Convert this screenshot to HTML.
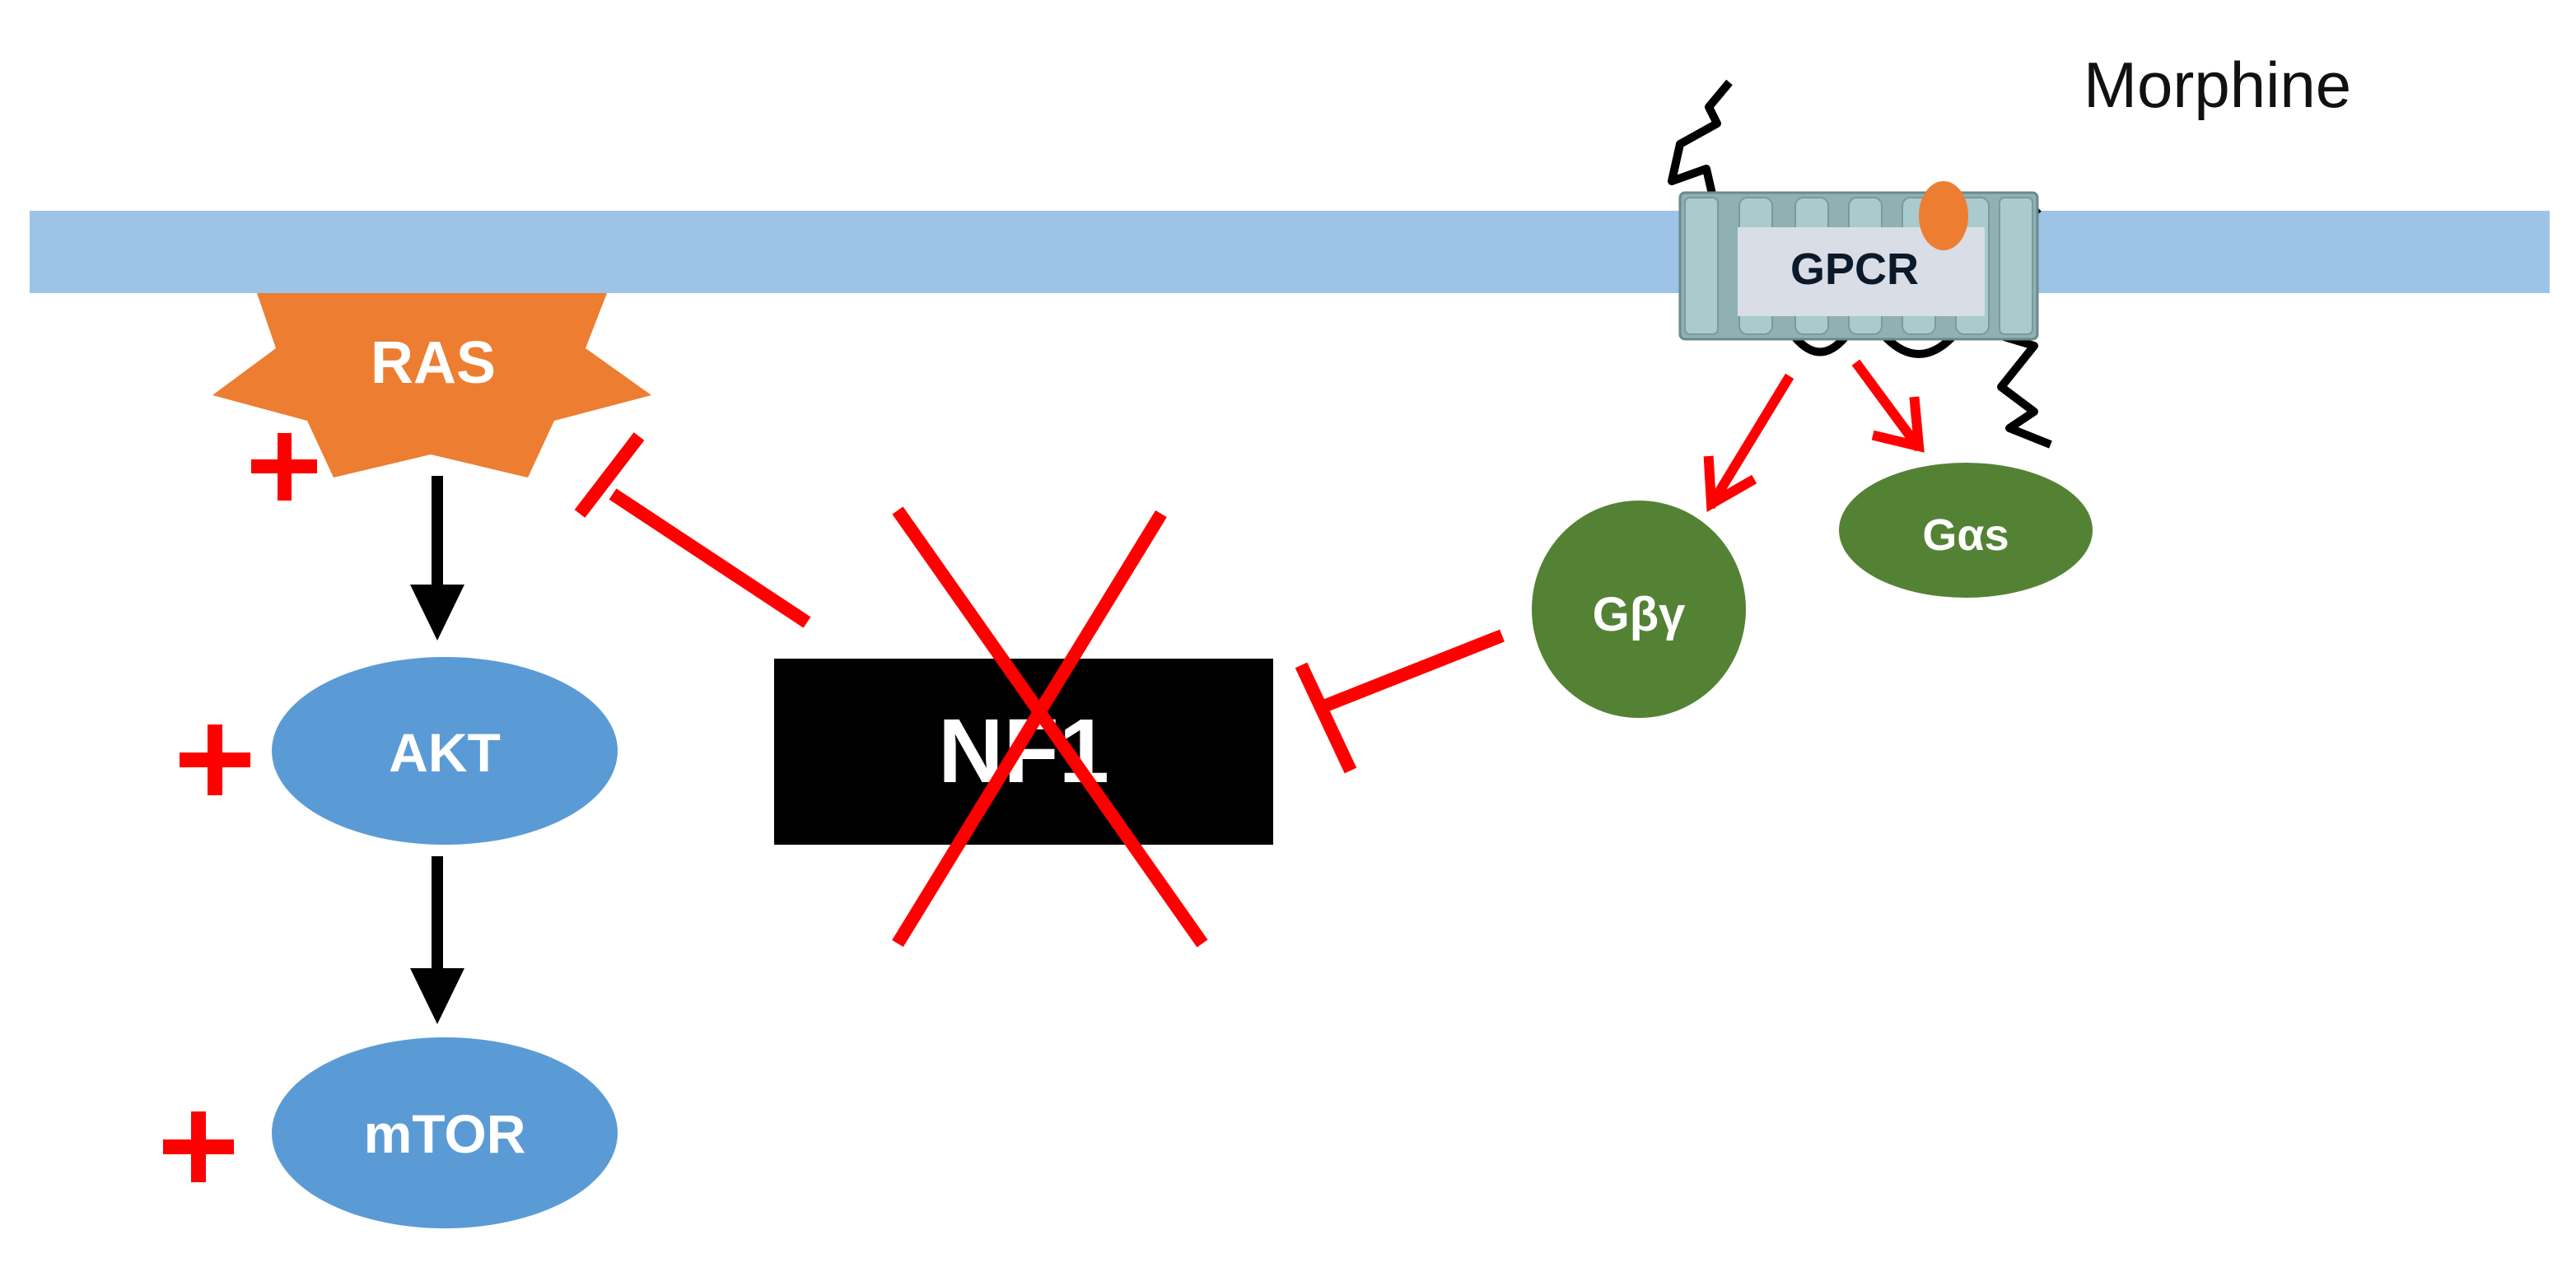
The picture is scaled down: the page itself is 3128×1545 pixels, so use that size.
<!DOCTYPE html>
<html><head><meta charset="utf-8"><style>
html,body{margin:0;padding:0;background:#fff;}
svg{display:block;}
text{font-family:"Liberation Sans",sans-serif;}
</style></head><body>
<svg width="3128" height="1545" viewBox="0 0 3128 1545" xmlns="http://www.w3.org/2000/svg">
<rect width="3128" height="1545" fill="#fff"/>
<!-- membrane -->
<rect x="36" y="256" width="3060" height="100" fill="#9dc3e6"/>
<text x="2530" y="130" font-size="78" fill="#111">Morphine</text>
<!-- GPCR -->
<g>
<path d="M2080,240 L2072,205 L2030,220 L2040,175 L2085,150 L2075,130 L2100,100" fill="none" stroke="#000" stroke-width="10" stroke-linejoin="round"/>
<path d="M2420,405 L2470,420 L2430,470 L2470,500 L2440,520 L2490,540" fill="none" stroke="#000" stroke-width="10" stroke-linejoin="round"/>
<path d="M2130,260 q30,-40 60,0 M2260,260 q40,-40 75,0 M2400,260 q40,-40 75,0 M2290,410 q40,40 80,0 M2180,410 q30,35 60,0" fill="none" stroke="#000" stroke-width="10"/>
<rect x="2040" y="234" width="434" height="178" rx="6" fill="#8fb1b4" stroke="#6a8a8c" stroke-width="3"/>
<g fill="#a9cbcd" stroke="#7a9a9c" stroke-width="2">
<rect x="2046" y="240" width="40" height="166" rx="6"/>
<rect x="2112" y="240" width="40" height="166" rx="10"/>
<rect x="2180" y="240" width="40" height="166" rx="10"/>
<rect x="2245" y="240" width="40" height="166" rx="10"/>
<rect x="2310" y="240" width="40" height="166" rx="10"/>
<rect x="2375" y="240" width="40" height="166" rx="10"/>
<rect x="2428" y="240" width="40" height="166" rx="6"/>
</g>
<rect x="2110" y="276" width="300" height="108" fill="#d8dde6"/>
<text x="2252" y="345" font-size="54" font-weight="bold" text-anchor="middle" fill="#0a1a2a">GPCR</text>
<ellipse cx="2360" cy="262" rx="30" ry="42" fill="#ed7d31"/>
</g>
<!-- red arrows from GPCR -->
<g stroke="#ff0000" stroke-width="12" fill="none" stroke-linecap="square">
<line x1="2170" y1="462" x2="2080" y2="610"/>
<polyline points="2075,560 2078,612 2125,585"/>
<line x1="2257" y1="445" x2="2327" y2="540"/>
<polyline points="2325,488 2330,542 2280,530"/>
</g>
<!-- G proteins -->
<ellipse cx="2387" cy="644" rx="154" ry="82" fill="#548235"/>
<text x="2387" y="668" font-size="54" font-weight="bold" text-anchor="middle" fill="#fff">Gαs</text>
<ellipse cx="1990" cy="740" rx="130" ry="132" fill="#548235"/>
<text x="1990" y="766" font-size="58" font-weight="bold" text-anchor="middle" fill="#fff">Gβγ</text>
<!-- inhibitor Gβγ -> NF1 -->
<g stroke="#ff0000" stroke-width="16" stroke-linecap="butt">
<line x1="1824" y1="772" x2="1602" y2="860"/>
<line x1="1580" y1="808" x2="1640" y2="936"/>
</g>
<!-- NF1 -->
<rect x="940" y="800" width="606" height="226" fill="#000"/>
<text x="1243" y="950" font-size="110" font-weight="bold" text-anchor="middle" fill="#fff">NF1</text>
<g stroke="#ff0000" stroke-width="16">
<line x1="1090" y1="620" x2="1460" y2="1146"/>
<line x1="1410" y1="624" x2="1090" y2="1146"/>
</g>
<!-- inhibitor NF1 -> RAS -->
<g stroke="#ff0000" stroke-width="16">
<line x1="980" y1="756" x2="744" y2="600"/>
<line x1="704" y1="624" x2="776" y2="530"/>
</g>
<!-- RAS -->
<polygon points="312,356 737,356 711,423 791,480 673,511 641,580 523,552 405,580 373,511 258,480 335,423" fill="#ed7d31"/>
<text x="526" y="465" font-size="72" font-weight="bold" text-anchor="middle" fill="#fff">RAS</text>
<!-- pluses -->
<g fill="#ff0000">
<rect x="305" y="558" width="80" height="17"/><rect x="337" y="526" width="17" height="82"/>
<rect x="218" y="914" width="86" height="18"/><rect x="252" y="880" width="18" height="86"/>
<rect x="198" y="1384" width="86" height="18"/><rect x="232" y="1350" width="18" height="86"/>
</g>
<!-- black arrows -->
<rect x="524" y="578" width="14" height="140" fill="#000"/>
<polygon points="498,710 564,710 531,778" fill="#000"/>
<rect x="524" y="1040" width="14" height="140" fill="#000"/>
<polygon points="498,1176 564,1176 531,1244" fill="#000"/>
<!-- AKT, mTOR -->
<ellipse cx="540" cy="912" rx="210" ry="114" fill="#5b9bd5"/>
<text x="540" y="937" font-size="66" font-weight="bold" text-anchor="middle" fill="#fff">AKT</text>
<ellipse cx="540" cy="1376" rx="210" ry="116" fill="#5b9bd5"/>
<text x="540" y="1400" font-size="66" font-weight="bold" text-anchor="middle" fill="#fff">mTOR</text>
</svg>
</body></html>
